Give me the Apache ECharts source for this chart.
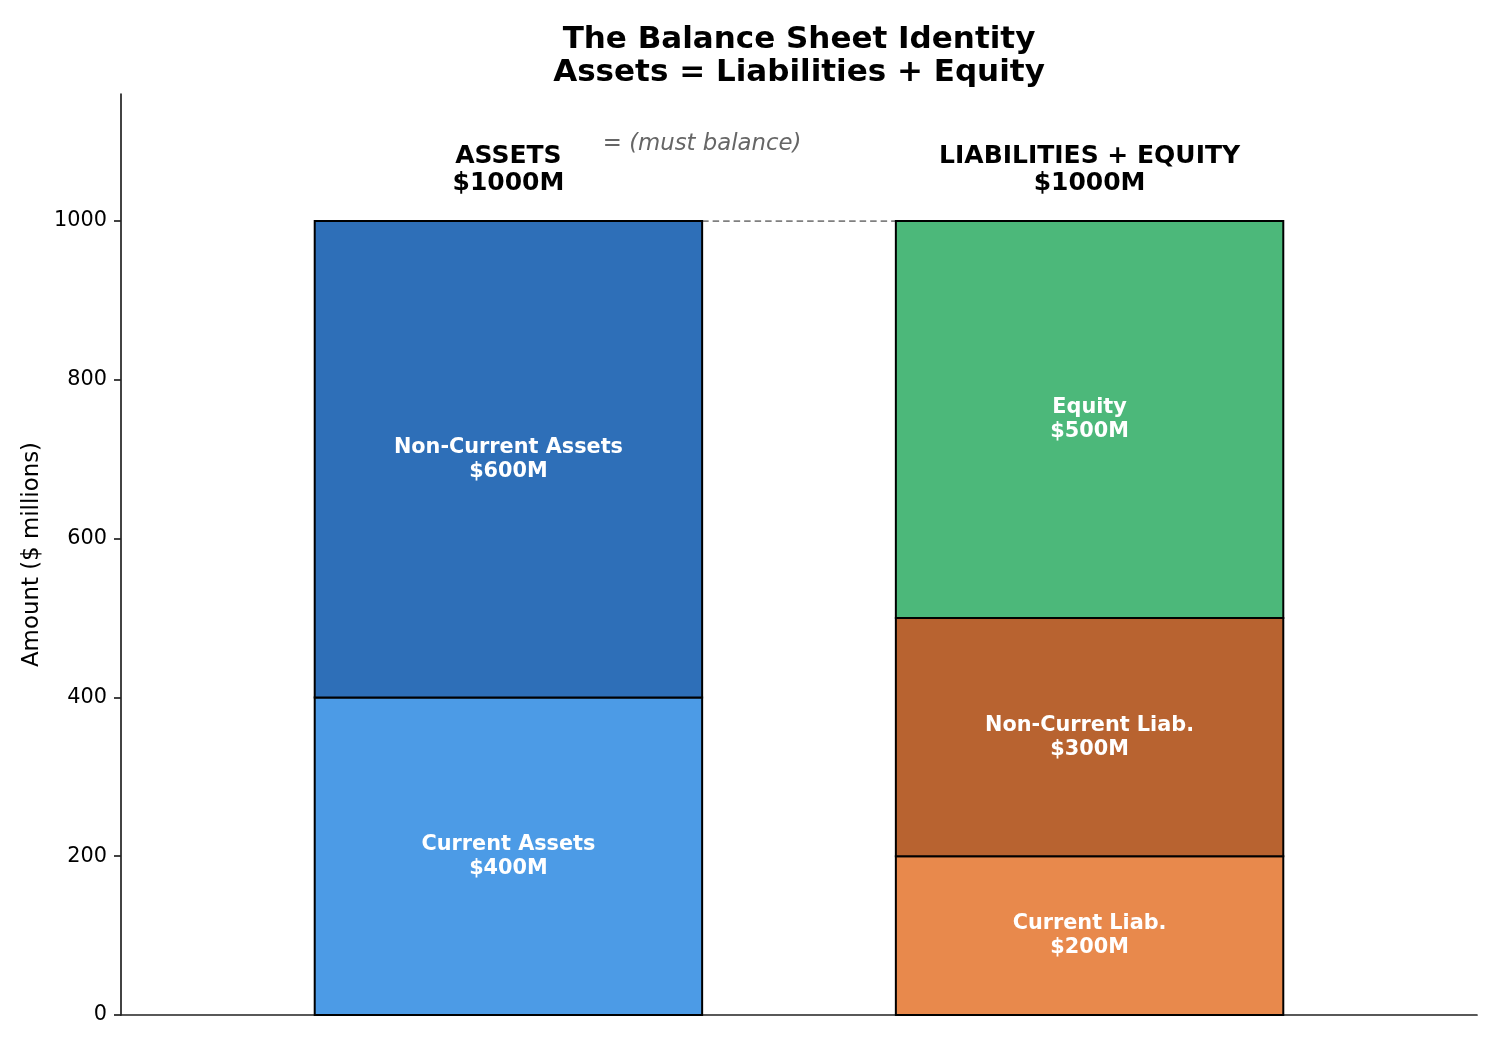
<!DOCTYPE html>
<html>
<head>
<meta charset="utf-8">
<script src="https://cdn.jsdelivr.net/npm/echarts@6/dist/echarts.min.js"></script>
<style>
html,body{margin:0;padding:0;background:#fff;}
#chart{width:1500px;height:1050px;}
</style>
</head>
<body>
<div id="chart"></div>
<script>
// ---- data ----
const groupNames = ['ASSETS', 'LIABILITIES + EQUITY'];
const groupX = [0, 1.5];
const groupTotals = [1000, 1000];
const segNames = ['Current Assets', 'Non-Current Assets', 'Current Liab.', 'Non-Current Liab.', 'Equity'];
const segValues = [400, 600, 200, 300, 500];
const segGroup = [0, 0, 1, 1, 1];
const segColors = ['#4C9BE6', '#2E6FB8', '#E8894C', '#B86330', '#4CB87A'];
const yTicks = [0, 200, 400, 600, 800, 1000];
const balanceNote = '= (must balance)';

// ---- build ----
const BAR_W = 1.0;
const FONT = 'DejaVu Sans';
const cum = [0, 0];
const segData = segValues.map((v, i) => {
  const g = segGroup[i];
  const base = cum[g];
  cum[g] += v;
  return [groupX[g], base, base + v, i];
});

const headerData = groupNames.map((n, i) => [groupX[i], 1030, n + '\n$' + groupTotals[i] + 'M']);

const chart = echarts.init(document.getElementById('chart'), null, {renderer: 'canvas'});
chart.setOption({
  animation: false,
  backgroundColor: '#fff',
  title: {
    text: 'The Balance Sheet Identity\nAssets = Liabilities + Equity',
    left: 799,
    textAlign: 'center',
    top: 23,
    padding: 0,
    textStyle: {fontFamily: FONT, fontWeight: 'bold', fontSize: 31, lineHeight: 33, color: '#000'}
  },
  grid: {left: 121, right: 23, top: 94, bottom: 35, containLabel: false},
  xAxis: {
    type: 'value', min: -1, max: 2.5,
    axisLine: {show: true, onZero: false, lineStyle: {color: '#222', width: 1.7}},
    axisTick: {show: false}, axisLabel: {show: false}, splitLine: {show: false}
  },
  yAxis: {
    type: 'value', min: 0, max: 1160,
    name: 'Amount ($ millions)', nameLocation: 'middle', nameGap: 76,
    nameTextStyle: {fontFamily: FONT, fontSize: 22.9, color: '#000'},
    axisLine: {show: true, onZero: false, lineStyle: {color: '#222', width: 1.7}},
    axisTick: {show: true, customValues: yTicks, length: 7, lineStyle: {color: '#222', width: 1.7}},
    axisLabel: {show: true, customValues: yTicks, fontFamily: FONT, fontSize: 20.8, color: '#000', margin: 14,
      padding: [4, 0, 0, 0],
      formatter: function (v) { return String(v); }},
    splitLine: {show: false}
  },
  series: [
    {
      type: 'custom',
      data: segData,
      renderItem: function (params, api) {
        const gx = api.value(0), y0 = api.value(1), y1 = api.value(2), idx = api.value(3);
        const p0 = api.coord([gx - BAR_W / 2, y0]);
        const p1 = api.coord([gx + BAR_W / 2, y1]);
        return {
          type: 'rect',
          shape: {x: p0[0], y: p1[1], width: p1[0] - p0[0], height: p0[1] - p1[1]},
          style: {fill: segColors[idx], stroke: '#000', lineWidth: 2},
          textContent: {
            style: {
              text: segNames[idx] + '\n$' + segValues[idx] + 'M',
              fill: '#fff', fontFamily: FONT, fontWeight: 'bold', fontSize: 20.8,
              lineHeight: 24, align: 'center'
            }
          },
          textConfig: {position: 'inside'}
        };
      },
      z: 2
    },
    {
      type: 'line',
      data: [[groupX[0] + BAR_W / 2, groupTotals[0]], [groupX[1] - BAR_W / 2, groupTotals[1]]],
      symbol: 'none',
      lineStyle: {color: '#808080', width: 1.8, type: [6.5, 4]},
      z: 1
    },
    {
      type: 'custom',
      data: headerData,
      renderItem: function (params, api) {
        const p = api.coord([api.value(0), api.value(1)]);
        return {
          type: 'text',
          x: p[0], y: p[1],
          style: {
            text: headerData[params.dataIndex][2],
            fill: '#000', fontFamily: FONT, fontWeight: 'bold', fontSize: 25,
            lineHeight: 27, align: 'center', verticalAlign: 'bottom'
          }
        };
      }
    },
    {
      type: 'custom',
      data: [[(groupX[0] + groupX[1]) / 2 - 0.25, 1097]],
      renderItem: function (params, api) {
        const p = api.coord([api.value(0), api.value(1)]);
        return {
          type: 'text',
          x: p[0], y: p[1],
          style: {
            text: balanceNote,
            fill: '#666', fontFamily: FONT, fontStyle: 'italic', fontSize: 22.8,
            align: 'center', verticalAlign: 'middle'
          }
        };
      }
    }
  ]
});
</script>
</body>
</html>
